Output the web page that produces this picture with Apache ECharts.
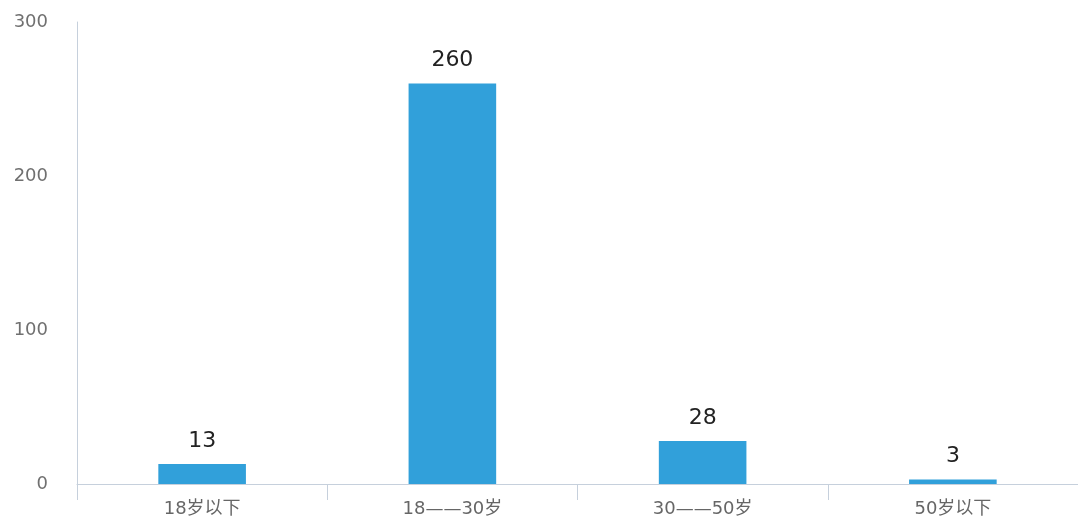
<!DOCTYPE html>
<html>
<head>
<meta charset="utf-8">
<script src="https://cdn.jsdelivr.net/npm/echarts@6/dist/echarts.min.js"></script>
<style>
  html, body { margin: 0; padding: 0; background: #fff; }
  #chart { width: 1078px; height: 522px; }
</style>
</head>
<body>
<div id="chart"></div>
<script>
// Age groups and respondent counts
const categories = ['18岁以下', '18——30岁', '30——50岁', '50岁以下'];
const counts = [13, 260, 28, 3];
const yTicks = { min: 0, max: 300, interval: 100 };

const chart = echarts.init(document.getElementById('chart'), null, { renderer: 'canvas' });
chart.setOption({
  animation: false,
  backgroundColor: '#ffffff',
  grid: { left: 77, right: -3, top: 22, bottom: 38, containLabel: false },
  xAxis: {
    type: 'category',
    data: categories,
    boundaryGap: true,
    axisLine: { lineStyle: { color: '#c6d0dc', width: 1 } },
    axisTick: { show: true, alignWithLabel: false, length: 16, lineStyle: { color: '#c6d0dc' } },
    axisLabel: {
      color: '#666666',
      fontSize: 18,
      margin: 16,
      fontFamily: 'DejaVu Sans, Noto Sans CJK SC, sans-serif'
    }
  },
  yAxis: {
    type: 'value',
    min: yTicks.min,
    max: yTicks.max,
    interval: yTicks.interval,
    axisLine: { show: true, lineStyle: { color: '#c6d0dc', width: 1 } },
    axisTick: { show: false },
    splitLine: { show: false },
    axisLabel: {
      color: '#707070',
      fontSize: 18,
      margin: 29,
      fontFamily: 'DejaVu Sans, sans-serif'
    }
  },
  series: [{
    type: 'bar',
    data: counts,
    barWidth: '35%',
    itemStyle: { color: '#31a0da' },
    label: {
      show: true,
      position: 'top',
      distance: 12,
      color: '#222222',
      fontSize: 22,
      fontFamily: 'DejaVu Sans, sans-serif'
    }
  }]
});
</script>
</body>
</html>
